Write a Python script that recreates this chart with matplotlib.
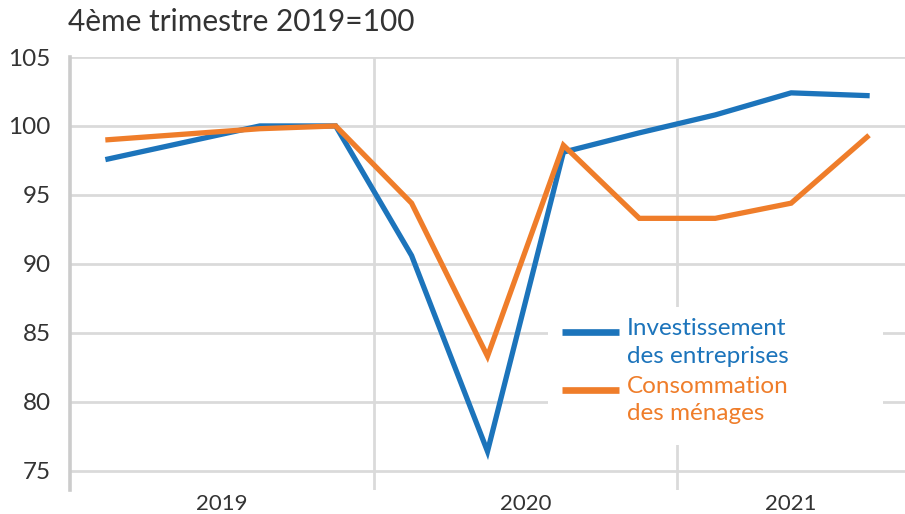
import matplotlib.pyplot as plt

# quarters 2019 T1 .. 2021 T3
quarters = ["2019T1", "2019T2", "2019T3", "2019T4",
            "2020T1", "2020T2", "2020T3", "2020T4",
            "2021T1", "2021T2", "2021T3"]
investissement = [97.6, 98.8, 100.0, 100.0, 90.6, 76.4, 98.1, 99.5, 100.8, 102.4, 102.2]
consommation = [99.0, 99.4, 99.8, 100.0, 94.4, 83.3, 98.6, 93.3, 93.3, 94.4, 99.2]
years = ["2019", "2020", "2021"]
year_centers = [1.5, 5.5, 9.0]
year_bounds = [3.5, 7.5]

BLUE = "#1c74bb"
ORANGE = "#ef7d2a"
GRID = "#dadada"

plt.rcParams['font.family'] = ['Lato', 'DejaVu Sans']

fig = plt.figure(figsize=(9.05, 5.14), dpi=100)
H = 433.0
ax = fig.add_axes([70 / 905, 1 - 490 / 514, 835 / 905, H / 514])

x = list(range(len(quarters)))
ax.plot(x, investissement, color=BLUE, lw=3.8, solid_joinstyle='miter', zorder=3)
ax.plot(x, consommation, color=ORANGE, lw=3.8, solid_joinstyle='miter', zorder=3)

ax.set_xlim(-0.5, 10.5)
ax.set_ylim(73.6, 105)
ax.set_yticks([75, 80, 85, 90, 95, 100, 105])
ax.tick_params(axis='y', length=0, pad=14, labelsize=17.5, labelcolor="#333333")
ax.set_xticks([])
for yv in [75, 80, 85, 90, 95, 100, 105]:
    ax.axhline(yv, color=GRID, lw=2, zorder=1)
for xb in year_bounds:
    ax.axvline(xb, color=GRID, lw=2, zorder=1)
for name, xc in zip(years, year_centers):
    ax.text(xc, 73.3, name, ha='center', va='top', fontsize=16, color="#333333")

for side in ['top', 'right', 'bottom']:
    ax.spines[side].set_visible(False)
ax.spines['left'].set_color("#cccccc")
ax.spines['left'].set_linewidth(2.6)

# legend drawn by hand so the key sits on the first text line
def ay(py):
    return (490 - py) / H

def axx(px):
    return (px - 70) / 835.0

ax.add_patch(plt.Rectangle((axx(548), ay(445)), axx(883) - axx(548), ay(307) - ay(445),
                           transform=ax.transAxes, facecolor='white', edgecolor='none', zorder=2))
ax.plot([axx(562), axx(619)], [ay(332), ay(332)], transform=ax.transAxes, color=BLUE,
        lw=4.8, solid_capstyle='butt', zorder=4)
ax.plot([axx(562), axx(619)], [ay(390), ay(390)], transform=ax.transAxes, color=ORANGE,
        lw=4.8, solid_capstyle='butt', zorder=4)
legend_lines = [("Investissement", 335, BLUE), ("des entreprises", 363, BLUE),
                ("Consommation", 393, ORANGE), ("des ménages", 420, ORANGE)]
for txt, base, col in legend_lines:
    ax.text(axx(627), ay(base), txt, transform=ax.transAxes, color=col, fontsize=17.5,
            ha='left', va='baseline', zorder=4)

fig.text(68 / 905, 1 - 22 / 514, "4ème trimestre 2019=100", fontsize=21.5,
         color="#333333", va='center', ha='left')

fig.savefig("out.png", dpi=100)
